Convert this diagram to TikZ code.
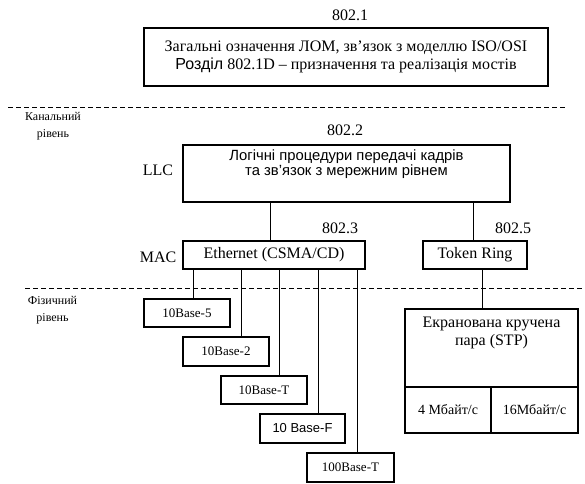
\documentclass[tikz,border=0pt]{standalone}
\usepackage{fontspec}
\setmainfont{Liberation Serif}
\setsansfont{Liberation Sans}
\tikzset{
    unitbox/.style={draw, line width=2pt, inner sep=0pt, outer sep=0pt},
    tag/.style={font=\fontsize{16}{18}\selectfont},
    small/.style={font=\fontsize{13}{15}\selectfont},
    layer/.style={align=center, font=\fontsize{12}{16.5}\selectfont},
    link/.style={line width=1pt},
    border/.style={line width=1pt, dash pattern=on 5pt off 3pt}
}

\begin{document}
\begin{tikzpicture}[x=1pt,y=-1pt]
    \useasboundingbox (0,0) rectangle (585,483);

    % 802.1
    \node[tag] (n1) at (350,15) {802.1};
    \node[unitbox,tag,align=center,minimum width=404pt,minimum height=58pt] (osi) at (346,57)
        {Загальні означення ЛОМ, зв’язок з моделлю ISO/OSI\\{\sffamily Розділ} 802.1D – призначення та реалізація мостів};

    \draw[border] (8,107) -- (565,107);
    \node[layer] (chan) at (53,126) {Канальний\\рівень};

    % LLC
    \node[tag] (n2) at (345,130) {802.2};
    \node[tag] (llctag) at (158,170) {LLC};
    \node[unitbox,minimum width=327pt,minimum height=57pt,
        label={[anchor=north,align=center,yshift=-1.5pt,font=\sffamily\fontsize{14.8}{15}\selectfont]north:Логічні процедури передачі кадрів\\та зв'язок з мережним рівнем}] (llc) at (346.5,173.5) {};

    % MAC
    \node[tag] (n3) at (340,228) {802.3};
    \node[tag] (n5) at (513,228) {802.5};
    \node[tag] (mactag) at (158,257) {MAC};
    \node[unitbox,tag,minimum width=182pt,minimum height=28pt] (eth) at (274,255) {Ethernet (CSMA/CD)};
    \node[unitbox,tag,minimum width=104pt,minimum height=28pt] (token) at (475,255) {Token Ring};

    \draw[link] ([xshift=-4pt]eth.north) -- ([xshift=-4pt]eth.north |- llc.south);
    \draw[link] ([xshift=-2pt]token.north) -- ([xshift=-2pt]token.north |- llc.south);

    \draw[border] (25,288) -- (582,288);
    \node[layer] (phys) at (52.5,310) {Фізичний\\рівень};

    % Ethernet media
    \node[unitbox,small,minimum width=86pt,minimum height=28pt] (b5) at (187,313) {10Base-5};
    \node[unitbox,small,minimum width=86pt,minimum height=29pt] (b2) at (226,351.5) {10Base-2};
    \node[unitbox,small,minimum width=86pt,minimum height=28pt] (bT) at (264,390) {10Base-T};
    \node[unitbox,small,font=\sffamily\fontsize{13}{15}\selectfont,minimum width=85pt,minimum height=29pt] (bF) at (302.5,428.5) {10 Base-F};
    \node[unitbox,small,minimum width=87pt,minimum height=29pt] (b100) at (350.5,467.5) {100Base-T};

    \draw[link] ([xshift=6pt]b5.north) -- ([xshift=6pt]b5.north |- eth.south);
    \draw[link] ([xshift=15pt]b2.north) -- ([xshift=15pt]b2.north |- eth.south);
    \draw[link] ([xshift=15pt]bT.north) -- ([xshift=15pt]bT.north |- eth.south);
    \draw[link] ([xshift=15.5pt]bF.north) -- ([xshift=15.5pt]bF.north |- eth.south);
    \draw[link] ([xshift=6.5pt]b100.north) -- ([xshift=6.5pt]b100.north |- eth.south);

    % Token Ring media
    \node[unitbox,minimum width=173pt,minimum height=124pt,
        label={[anchor=north,align=center,yshift=-4pt,tag]north:Екранована кручена\\пара (STP)}] (stp) at (491.5,371) {};
    \node[unitbox,font=\fontsize{14}{15}\selectfont,anchor=south west,minimum width=86pt,minimum height=46pt] (slow) at (stp.south west) {4 Мбайт/с};
    \node[unitbox,font=\fontsize{14}{15}\selectfont,anchor=south east,minimum width=87pt,minimum height=46pt] (fast) at (stp.south east) {16Мбайт/с};

    \draw[link] ([xshift=7pt]token.south) -- ([xshift=7pt]token.south |- stp.north);
\end{tikzpicture}
\end{document}
